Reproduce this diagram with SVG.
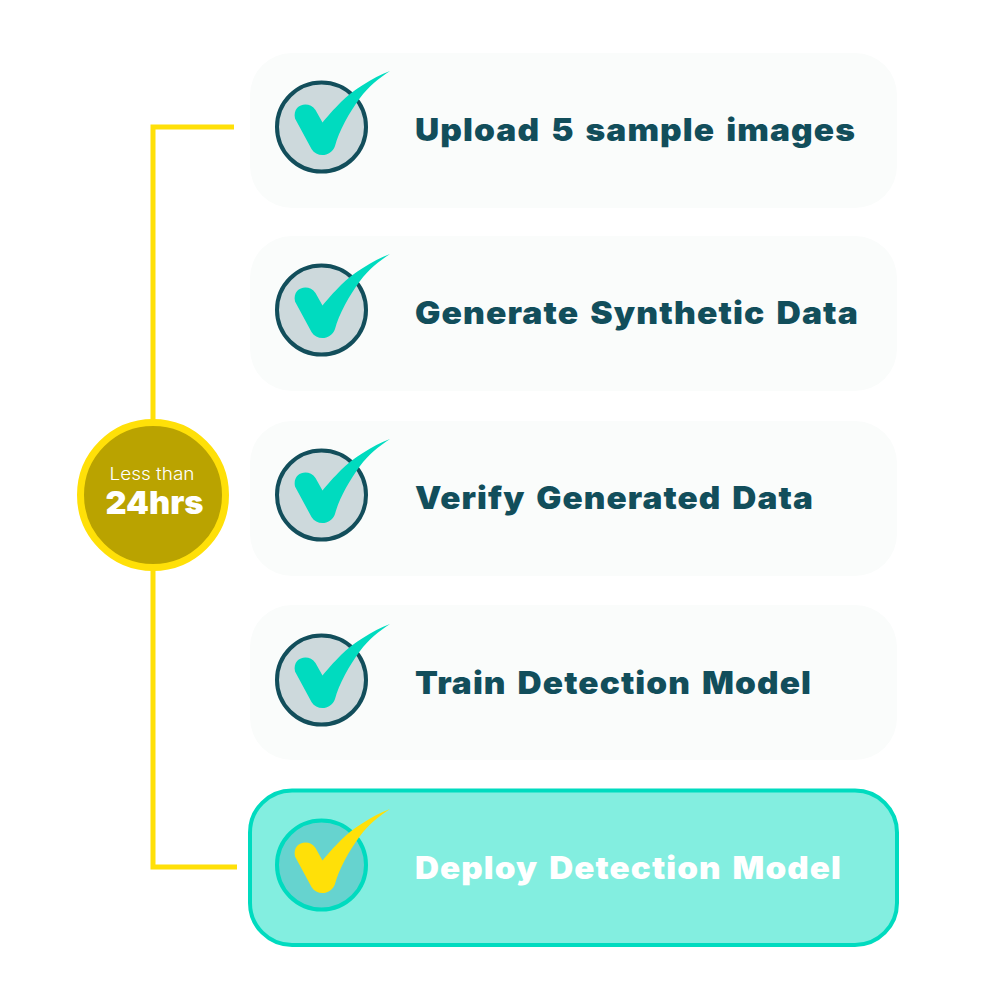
<svg xmlns="http://www.w3.org/2000/svg" width="1000" height="1000" viewBox="0 0 1000 1000">
<style>
.card{fill:#fafcfb}
.ring{fill:#cdd9dc;stroke:#124e5b;stroke-width:4}
.tick{fill:#00dbbf}
.lbl{font-family:"Inter","Liberation Sans",sans-serif;font-weight:900;font-size:31px;fill:#124e5b;letter-spacing:1px;word-spacing:3px}
.w{fill:#fff}
</style>
<defs>
<path id="check" d="M390,71C372,78 353,90 341,102C334,109 327,117 322.500,122.500L315.500,110C309,100 292,104 295,118.500L311.500,149C317,158 331,157 335,146C339,131 349,113 360,98C368,87 379,78 390,71Z"/>
</defs>
<rect width="1000" height="1000" fill="#fff"/>
<g id="connectors"><path d="M234,127H153V867H237" fill="none" stroke="#ffe008" stroke-width="5"/></g>
<g id="step1"><rect class="card" x="250" y="53" width="647" height="155" rx="42"/><circle class="ring" cx="321.500" cy="127" r="44.500"/><use href="#check" class="tick"/><text class="lbl" x="415" y="141" textLength="441" lengthAdjust="spacingAndGlyphs">Upload 5 sample images</text></g>
<g id="step2"><rect class="card" x="250" y="236" width="647" height="155" rx="42"/><circle class="ring" cx="321.500" cy="310" r="44.500"/><use href="#check" class="tick" y="183"/><text class="lbl" x="415" y="324" textLength="444" lengthAdjust="spacingAndGlyphs">Generate Synthetic Data</text></g>
<g id="step3"><rect class="card" x="250" y="421" width="647" height="155" rx="42"/><circle class="ring" cx="321.500" cy="495" r="44.500"/><use href="#check" class="tick" y="368"/><text class="lbl" x="415" y="509" textLength="399" lengthAdjust="spacingAndGlyphs">Verify Generated Data</text></g>
<g id="step4"><rect class="card" x="250" y="605" width="647" height="155" rx="42"/><circle class="ring" cx="321.500" cy="680" r="44.500"/><use href="#check" class="tick" y="553"/><text class="lbl" x="415" y="694" textLength="397" lengthAdjust="spacingAndGlyphs">Train Detection Model</text></g>
<g id="step5"><rect x="250" y="790.500" width="647" height="154.500" rx="42" fill="#83eee0" stroke="#00dbbf" stroke-width="4"/><circle cx="321.500" cy="865" r="44.500" fill="#66d3cf" stroke="#00dbbf" stroke-width="4"/><use href="#check" fill="#ffe008" y="738"/><text class="lbl w" x="415" y="879" textLength="427" lengthAdjust="spacingAndGlyphs">Deploy Detection Model</text></g>
<g id="timer"><circle cx="153" cy="495" r="72.500" fill="#baa300" stroke="#ffe008" stroke-width="7"/><text x="152" y="480" text-anchor="middle" font-family="Inter,'Liberation Sans',sans-serif" font-weight="300" font-size="17" fill="#fff" textLength="85" lengthAdjust="spacingAndGlyphs">Less than</text><text x="154.500" y="514" text-anchor="middle" font-family="Inter,'Liberation Sans',sans-serif" font-weight="900" font-size="32" fill="#fff" textLength="98" lengthAdjust="spacingAndGlyphs">24hrs</text></g>
</svg>
